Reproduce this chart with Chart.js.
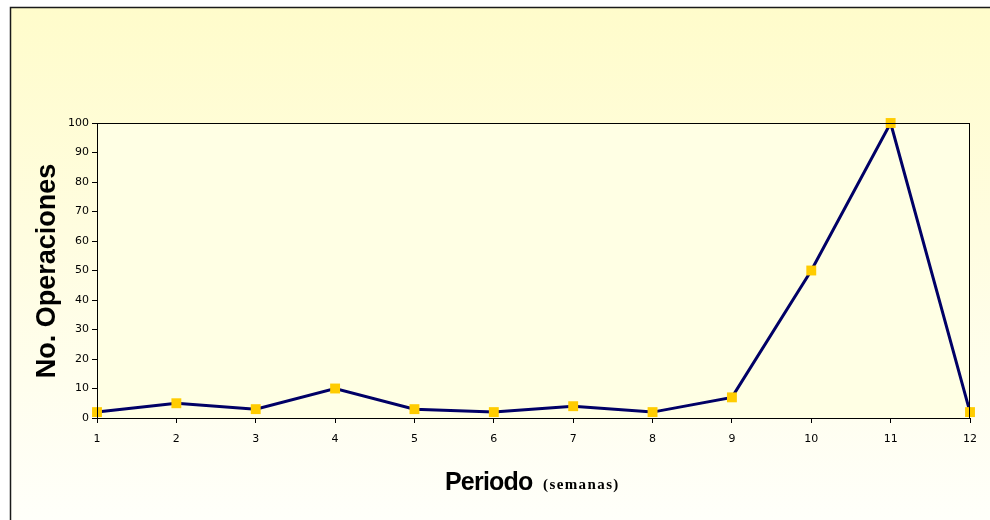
<!DOCTYPE html>
<html>
<head>
<meta charset="utf-8">
<script src="https://cdn.jsdelivr.net/npm/chart.js@4/dist/chart.umd.min.js"></script>
<style>
  html, body { margin: 0; padding: 0; background: #ffffff; }
  #wrap { width: 990px; height: 520px; }
</style>
</head>
<body>
<div id="wrap"><canvas id="c" width="990" height="520"></canvas></div>
<script>
// Weekly number of operations
const periods = ['1', '2', '3', '4', '5', '6', '7', '8', '9', '10', '11', '12'];
const operations = [2, 5, 3, 10, 3, 2, 4, 2, 7, 50, 100, 2];
const yTicks = [0, 10, 20, 30, 40, 50, 60, 70, 80, 90, 100];

const yTitle = 'No. Operaciones';
const xTitle = 'Periodo';
const xSubTitle = '(semanas)';

// Background panel, plot frame and axis titles
const decor = {
  id: 'decor',
  beforeDraw(chart) {
    const ctx = chart.ctx;
    const W = chart.width, H = chart.height;
    ctx.save();
    ctx.fillStyle = '#ffffff';
    ctx.fillRect(0, 0, W, H);
    const g = ctx.createLinearGradient(0, 7, 0, H);
    g.addColorStop(0, '#fffccb');
    g.addColorStop(0.45, '#fffde0');
    g.addColorStop(1, '#fffffa');
    ctx.fillStyle = g;
    ctx.fillRect(10, 7, W - 10, H - 7);
    ctx.strokeStyle = '#1a1a1a';
    ctx.lineWidth = 1.5;
    ctx.beginPath();
    ctx.moveTo(10.5, H);
    ctx.lineTo(10.5, 7.5);
    ctx.lineTo(W, 7.5);
    ctx.stroke();

    const a = chart.chartArea;
    ctx.fillStyle = '#ffffe4';
    ctx.fillRect(a.left, a.top, a.right - a.left, a.bottom - a.top);
    ctx.restore();
  },
  afterDatasetsDraw(chart) {
    const ctx = chart.ctx;
    const a = chart.chartArea;
    ctx.save();
    ctx.strokeStyle = '#000000';
    ctx.lineWidth = 1;
    ctx.strokeRect(Math.round(a.left) + 0.5, Math.round(a.top) + 0.5,
      Math.round(a.right - a.left) - 1, Math.round(a.bottom - a.top));
    ctx.restore();
  },
  afterDraw(chart) {
    const ctx = chart.ctx;
    ctx.save();
    ctx.fillStyle = '#000000';
    // vertical title
    ctx.translate(55, 271);
    ctx.rotate(-Math.PI / 2);
    ctx.font = 'bold 27px "Liberation Sans", Arial, sans-serif';
    ctx.textAlign = 'center';
    ctx.textBaseline = 'alphabetic';
    ctx.fillText(yTitle, 0, 0);
    ctx.restore();

    // horizontal title with smaller note
    ctx.save();
    ctx.fillStyle = '#000000';
    ctx.textBaseline = 'alphabetic';
    ctx.textAlign = 'left';
    ctx.font = 'bold 25px "Liberation Sans", Arial, sans-serif';
    if ('letterSpacing' in ctx) ctx.letterSpacing = '-0.8px';
    ctx.fillText(xTitle, 445, 490);
    ctx.font = 'bold 15px "Liberation Serif", "Times New Roman", serif';
    if ('letterSpacing' in ctx) ctx.letterSpacing = '1.4px';
    ctx.fillText(xSubTitle, 543, 489);
    ctx.restore();
  }
};

new Chart(document.getElementById('c'), {
  type: 'line',
  data: {
    labels: periods,
    datasets: [{
      data: operations,
      borderColor: '#000066',
      borderWidth: 3,
      tension: 0,
      pointStyle: 'rect',
      pointRadius: 7,
      pointHoverRadius: 7,
      pointBackgroundColor: '#ffcc00',
      pointBorderColor: '#ffcc00',
      pointBorderWidth: 0,
      clip: false
    }]
  },
  options: {
    responsive: false,
    animation: false,
    devicePixelRatio: 1,
    layout: { padding: { left: 0, right: 20, top: 123, bottom: 0 } },
    plugins: { legend: { display: false }, tooltip: { enabled: false }, title: { display: false } },
    scales: {
      x: {
        type: 'category',
        offset: false,
        grid: { display: true, drawOnChartArea: false, drawTicks: true, tickLength: 5, color: '#000000', lineWidth: 1 },
        border: { display: true, color: '#000000', width: 1 },
        ticks: { color: '#000000', font: { family: '"DejaVu Sans", sans-serif', size: 11 }, padding: 10, maxRotation: 0, autoSkip: false },
        afterFit(scale) { scale.height = 102; }
      },
      y: {
        type: 'linear',
        min: 0,
        max: 100,
        afterBuildTicks(scale) { scale.ticks = yTicks.map(v => ({ value: v })); },
        grid: { display: true, drawOnChartArea: false, drawTicks: true, tickLength: 5, color: '#000000', lineWidth: 1 },
        border: { display: true, color: '#000000', width: 1 },
        ticks: { color: '#000000', font: { family: '"DejaVu Sans", sans-serif', size: 11 }, padding: 3 },
        afterFit(scale) { scale.width = 97; }
      }
    }
  },
  plugins: [decor]
});
</script>
</body>
</html>
